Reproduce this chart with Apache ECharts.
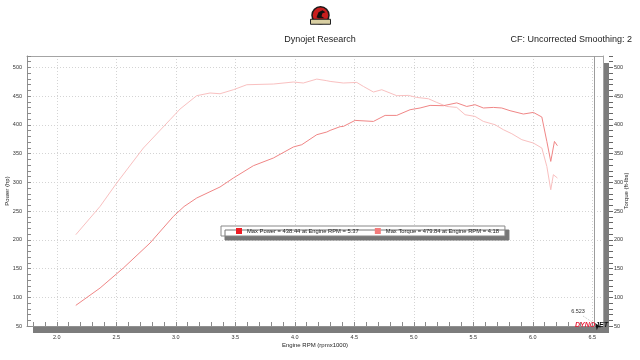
<!DOCTYPE html>
<html><head><meta charset="utf-8">
<script src="https://cdn.jsdelivr.net/npm/echarts@6/dist/echarts.min.js"></script>
<style>html,body{margin:0;padding:0;background:#fff}#c{width:640px;height:360px}</style>
</head><body><div id="c"></div>
<script>
// ---- data ----
const powerRpm = [2.16,2.364,2.56,2.784,2.98,3.07,3.176,3.372,3.484,3.652,3.82,3.988,4.059,4.185,4.269,4.297,4.381,4.408,4.507,4.521,4.661,4.759,4.857,4.969,5.053,5.137,5.249,5.361,5.445,5.515,5.585,5.669,5.739,5.809,5.921,6.005,6.076,6.118,6.151,6.182,6.207];
const powerHp  = [85.9,116.1,151,194.5,240.8,258,272.8,292,307.6,329,342.4,361.6,365.6,383,387.7,390.5,397,397.4,407.9,408.6,406.1,416.6,416.6,426.5,429.5,434,433.5,438.4,432.2,435.2,429.5,430.5,429.5,424.8,419,421.8,413.8,371.3,336.5,371.3,363.8];
const torqueRpm = [2.16,2.364,2.504,2.728,2.952,3.036,3.176,3.288,3.372,3.484,3.597,3.82,3.988,4.072,4.185,4.269,4.297,4.408,4.521,4.577,4.661,4.731,4.857,4.955,5.025,5.123,5.193,5.277,5.361,5.431,5.515,5.585,5.683,5.753,5.824,5.908,6.005,6.076,6.118,6.151,6.173,6.207];
const torqueFtLbs = [208.9,258.2,298.9,359.8,409.1,427.7,450.9,455.6,454.3,461.3,470,471.2,474.7,473,479.8,477,475.8,473,474,467,457.3,461.3,450.9,451.4,447.9,445.6,439.2,432.2,430.5,417.8,414.8,406.1,400.4,391.7,384.7,374.3,368.5,359.8,327.8,287.2,313.4,307.6];
const xTickLabels = [2.0,2.5,3.0,3.5,4.0,4.5,5.0,5.5,6.0,6.5];
const yTickLabels = [50,100,150,200,250,300,350,400,450,500];
const maxPowerText = ['438.44','5.37'];
const maxTorqueText = ['479.84','4.18'];
const cursorRpm = 6.523;
const titleText = 'Dynojet Research';
const cfText = 'CF: Uncorrected Smoothing: 2';

// ---- chart ----
const FF = "'Liberation Sans', Arial, sans-serif";
const xTicks = []; for (let i = 18; i <= 65; i++) xTicks.push(+(i / 10).toFixed(1));
const yTicks = []; for (let v = 50; v <= 520; v += 10) yTicks.push(v);
const X0 = 1.75, X1 = 6.59, Y0 = 50, Y1 = 520;
const tickColor = '#8a8a8a';
const frameColor = '#a4a4a4';
const lblStyle = { fontSize: 5.5, color: '#333', fontFamily: FF };
const nameStyle = { fontSize: 6, color: '#222', fontFamily: FF };
const gridLine = { show: true, lineStyle: { color: '#d4d4d4', type: [1, 2], width: 1 } };

const chart = echarts.init(document.getElementById('c'), null, { renderer: 'canvas' });
chart.setOption({
  animation: false,
  backgroundColor: '#fff',
  title: [
    { text: titleText, left: 'center', top: 35, padding: 0,
      textStyle: { fontSize: 9, fontWeight: 'normal', color: '#222', fontFamily: FF } },
    { text: cfText, right: 8, top: 35, padding: 0,
      textStyle: { fontSize: 9, fontWeight: 'normal', color: '#222', fontFamily: FF } }
  ],
  grid: { left: 27, top: 56, right: 37, bottom: 34, outerBoundsMode: 'none', containLabel: false,
          show: true, backgroundColor: '#fff', borderWidth: 0,
          shadowColor: '#7c7c7c', shadowOffsetX: 6, shadowOffsetY: 7, shadowBlur: 0 },
  legend: {
    left: 221, top: 226, padding: [2, 6, 2, 15], itemGap: 16, itemWidth: 6, itemHeight: 6,
    icon: 'rect', selectedMode: false,
    backgroundColor: '#fff', borderColor: '#888', borderWidth: 1,
    shadowColor: '#777', shadowOffsetX: 4, shadowOffsetY: 4, shadowBlur: 0,
    textStyle: { fontSize: 5.8, color: '#222', fontFamily: FF },
    data: [{ name: 'Power', itemStyle: { color: '#ee1c24' } },
           { name: 'Torque', itemStyle: { color: '#f47c7c' } }],
    formatter: n => n === 'Power'
      ? 'Max Power = ' + maxPowerText[0] + ' at Engine RPM = ' + maxPowerText[1]
      : 'Max Torque = ' + maxTorqueText[0] + ' at Engine RPM = ' + maxTorqueText[1]
  },
  xAxis: [
    { type: 'value', min: X0, max: X1, position: 'bottom',
      axisLine: { show: true, onZero: false, lineStyle: { color: '#909090' } },
      axisTick: { show: true, inside: true, length: 4, customValues: xTicks, lineStyle: { color: tickColor } },
      axisLabel: { customValues: xTickLabels, formatter: v => v.toFixed(1), margin: 8, ...lblStyle },
      splitLine: { show: false },
      name: 'Engine RPM (rpmx1000)', nameLocation: 'middle', nameGap: 16, nameMoveOverlap: false,
      nameTextStyle: nameStyle },
    { type: 'value', min: X0, max: X1, position: 'top',
      axisLine: { show: true, onZero: false, lineStyle: { color: frameColor } },
      axisTick: { show: false, customValues: xTickLabels },
      axisLabel: { show: false, customValues: xTickLabels },
      splitLine: gridLine }
  ],
  yAxis: [
    { type: 'value', min: Y0, max: Y1, position: 'left',
      axisLine: { show: true, onZero: false, lineStyle: { color: '#909090' } },
      axisTick: { show: true, inside: true, length: 4, customValues: yTicks, lineStyle: { color: tickColor } },
      axisLabel: { customValues: yTickLabels, margin: 5, ...lblStyle },
      splitLine: { show: false },
      name: 'Power (hp)', nameLocation: 'middle', nameGap: 17, nameMoveOverlap: false,
      nameTextStyle: nameStyle },
    { type: 'value', min: Y0, max: Y1, position: 'right', offset: 6,
      axisLine: { show: false },
      axisTick: { show: true, inside: false, length: 4, customValues: yTicks, lineStyle: { color: '#666' } },
      axisLabel: { customValues: yTickLabels, margin: 5, ...lblStyle },
      splitLine: { show: false },
      name: 'Torque (ft-lbs)', nameLocation: 'middle', nameGap: 14, nameMoveOverlap: false,
      nameTextStyle: nameStyle },
    { type: 'value', min: Y0, max: Y1, position: 'right',
      axisLine: { show: true, onZero: false, lineStyle: { color: frameColor } },
      axisTick: { show: false, customValues: yTickLabels },
      axisLabel: { show: false, customValues: yTickLabels },
      splitLine: gridLine }
  ],
  series: [
    { name: 'Power', type: 'line', xAxisIndex: 0, yAxisIndex: 0, z: 4,
      data: powerRpm.map((r, i) => [r, powerHp[i]]),
      symbol: 'none', showSymbol: false, smooth: false,
      lineStyle: { color: '#f08686', width: 1 }, itemStyle: { color: '#f08686' },
      markLine: { silent: true, symbol: 'none', label: { show: false },
        lineStyle: { color: '#9c9c9c', type: 'solid', width: 1 },
        data: [{ xAxis: cursorRpm }] },
      markPoint: { silent: true,
        data: [{ coord: [cursorRpm, Y0], symbol: 'arrow', symbolSize: [4, 7], symbolRotate: 35, symbolOffset: [0, -3],
          itemStyle: { color: '#111' },
          label: { show: true, formatter: '6.523', position: 'top', distance: 3, offset: [-19, -4], ...lblStyle } }] } },
    { name: 'Torque', type: 'line', xAxisIndex: 0, yAxisIndex: 1, z: 3,
      data: torqueRpm.map((r, i) => [r, torqueFtLbs[i]]),
      symbol: 'none', showSymbol: false, smooth: false,
      lineStyle: { color: '#f9c0c0', width: 1 }, itemStyle: { color: '#f9c0c0' } }
  ],
  graphic: [
    { type: 'group', left: 310, top: 6, children: [
      { type: 'circle', shape: { cx: 11, cy: 9, r: 8.5 }, style: { fill: '#c81e1e', stroke: '#1a1a1a', lineWidth: 1.5 } },
      { type: 'polygon', shape: { points: [[7, 11], [9, 6], [13, 4], [16, 6], [13, 7], [12, 10], [15, 12], [9, 12]] }, style: { fill: '#111' } },
      { type: 'rect', shape: { x: 1, y: 13, width: 20, height: 5 }, style: { fill: '#d9cfa2', stroke: '#222', lineWidth: 1 } }
    ] },
    { type: 'text', left: 575, top: 322, z: 10,
      style: { text: '{a|DYNO}{b|JET}', rich: {
        a: { fontSize: 7, fontWeight: 'bold', fontStyle: 'italic', fill: '#e8203a', fontFamily: FF },
        b: { fontSize: 7, fontWeight: 'bold', fontStyle: 'italic', fill: '#111', fontFamily: FF } } } },
    { type: 'line', z: 10, shape: { x1: 583, y1: 316, x2: 592, y2: 322 }, style: { stroke: '#999', lineWidth: 0.6, lineDash: [1, 1] } }
  ]
});
</script></body></html>
